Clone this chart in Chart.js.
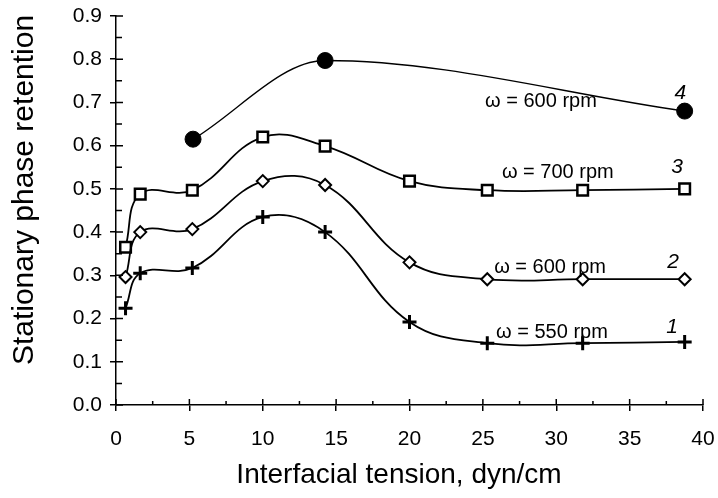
<!DOCTYPE html>
<html>
<head>
<meta charset="utf-8">
<script src="https://cdn.jsdelivr.net/npm/chart.js@4/dist/chart.umd.min.js"></script>
<style>
    html, body { margin: 0; padding: 0; background: #fff; }
    #wrap { width: 718px; height: 498px; }
</style>
</head>
<body>
<div id="wrap"><canvas id="retention-chart"></canvas></div>
<script>
// interfacial tension (dyn/cm) for curves 1-3, and for curve 4
const tension = [0.65, 1.65, 5.2, 10.0, 14.25, 20.0, 25.3, 31.8, 38.75]
const tension4 = [5.25, 14.25, 38.75]

// stationary phase retention
const rpm550 = [0.224, 0.305, 0.317, 0.435, 0.400, 0.192, 0.143, 0.143, 0.146]
const rpm600 = [0.296, 0.400, 0.407, 0.518, 0.509, 0.330, 0.291, 0.291, 0.291]
const rpm700 = [0.365, 0.488, 0.497, 0.620, 0.599, 0.518, 0.497, 0.497, 0.500]
const rpm600b = [0.615, 0.797, 0.680]

// curve labels: [text, x, y] in data units
const curveLabels = [
    ['\u03c9 = 600 rpm', 25.15, 0.689],
    ['\u03c9 = 700 rpm', 26.3, 0.525],
    ['\u03c9 = 600 rpm', 25.77, 0.305],
    ['\u03c9 = 550 rpm', 25.9, 0.155],
]
const curveNumbers = [
    ['4', 38.45, 0.709],
    ['3', 38.24, 0.536],
    ['2', 37.97, 0.317],
    ['1', 37.9, 0.166],
]

const xTitle = 'Interfacial tension, dyn/cm'
const yTitle = 'Stationary phase retention'

const FONT = '"Liberation Sans", Arial, sans-serif'

const toPoints = (xs, ys) => xs.map((x, i) => ({ x: x, y: ys[i] }))

const curve = (data, style, radius, bw, fill, lw) => ({
    data: data,
    showLine: true,
    tension: 0.4,
    borderColor: '#000',
    borderWidth: lw,
    pointStyle: style,
    pointRadius: radius,
    pointBorderWidth: bw,
    pointBorderColor: '#000',
    pointBackgroundColor: fill,
    clip: false,
})

// inner halves of the major ticks, minor ticks, titles and curve labels
const extras = {
    id: 'extras',
    afterDatasetsDraw(chart) {
        const ctx = chart.ctx
        const xs = chart.scales.x
        const ys = chart.scales.y
        const ax = xs.getPixelForValue(0)
        const ay = ys.getPixelForValue(0)
        ctx.save()
        ctx.strokeStyle = '#000'
        ctx.lineWidth = 1.5
        ctx.beginPath()
        for (let i = 0; i <= 18; i++) {
            const py = ys.getPixelForValue(i * 0.05)
            ctx.moveTo(ax, py)
            ctx.lineTo(ax + (i % 2 === 0 ? 7 : 6), py)
        }
        for (let i = 0; i <= 16; i++) {
            const px = xs.getPixelForValue(i * 2.5)
            ctx.moveTo(px, ay)
            ctx.lineTo(px, ay - (i % 2 === 0 ? 6 : 4))
        }
        ctx.stroke()

        ctx.fillStyle = '#000'
        ctx.textAlign = 'left'
        ctx.textBaseline = 'alphabetic'
        ctx.font = '20px ' + FONT
        curveLabels.forEach(l => {
            ctx.fillText(l[0], xs.getPixelForValue(l[1]), ys.getPixelForValue(l[2]))
        })
        ctx.textAlign = 'center'
        ctx.font = 'italic 21px ' + FONT
        curveNumbers.forEach(l => {
            ctx.fillText(l[0], xs.getPixelForValue(l[1]), ys.getPixelForValue(l[2]))
        })

        ctx.textBaseline = 'middle'
        ctx.font = '28px ' + FONT
        ctx.fillText(xTitle, 399, 475)
        ctx.translate(25, 190)
        ctx.rotate(-Math.PI / 2)
        ctx.font = '30px ' + FONT
        ctx.fillText(yTitle, 0, 0)
        ctx.restore()
    }
}

const set4 = curve(toPoints(tension4, rpm600b), 'circle', 8, 1, '#000', 1.3)
set4.cubicInterpolationMode = 'monotone'

const config = {
    type: 'scatter',
    data: {
        datasets: [
            curve(toPoints(tension, rpm550), 'cross', 7, 3, '#000', 1.8),
            curve(toPoints(tension, rpm600), 'rectRot', 6, 2, '#fff', 1.8),
            curve(toPoints(tension, rpm700), 'rect', 7.5, 2.5, '#fff', 1.8),
            set4,
        ],
    },
    options: {
        responsive: true,
        maintainAspectRatio: false,
        animation: false,
        layout: {
            padding: { top: 16, right: 15, left: 0, bottom: 0 }
        },
        plugins: {
            legend: { display: false },
            tooltip: { enabled: false },
        },
        scales: {
            x: {
                type: 'linear',
                min: 0,
                max: 40,
                afterFit: s => {
                    s.height = 93
                    s.paddingLeft = 0
                    s.paddingRight = 0
                },
                border: { display: true, color: '#000', width: 1.5 },
                grid: { drawOnChartArea: false, color: '#000', lineWidth: 1.5, tickLength: 6 },
                ticks: {
                    stepSize: 5,
                    padding: 16,
                    color: '#000',
                    font: { family: FONT, size: 21 },
                },
            },
            y: {
                min: 0,
                max: 0.9,
                afterFit: s => {
                    s.width = 116
                    s.paddingTop = 0
                    s.paddingBottom = 0
                },
                border: { display: true, color: '#000', width: 1.5 },
                grid: { drawOnChartArea: false, color: '#000', lineWidth: 1.5, tickLength: 6 },
                ticks: {
                    stepSize: 0.1,
                    padding: 8,
                    color: '#000',
                    font: { family: FONT, size: 21 },
                    callback: v => v.toFixed(1),
                },
            },
        },
    },
    plugins: [extras],
}

const ctx = document.getElementById('retention-chart')
const retentionChart = new Chart(ctx, config)
</script>
</body>
</html>
